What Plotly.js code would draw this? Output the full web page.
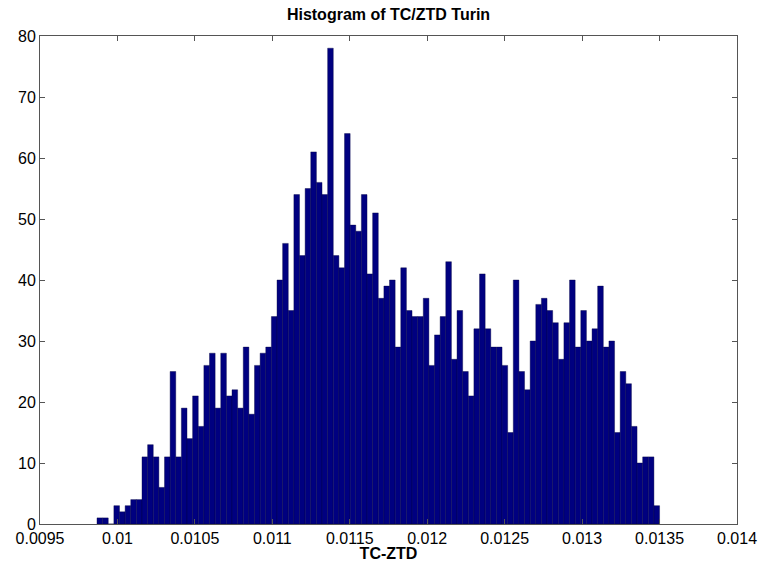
<!DOCTYPE html>
<html>
<head>
<meta charset="utf-8">
<script src="https://cdn.plot.ly/plotly-3.0.1.min.js"></script>
<style>html,body{margin:0;padding:0;background:#fff;}#chart{width:759px;height:562px;}</style>
</head>
<body>
<div id="chart"></div>
<script>
// Histogram bin range (data min / max) and number of bins
var binMin = 0.009868;
var binMax = 0.0135;
var nBins = 100;

// Counts per bin
var counts = [
  1, 1, 0, 3, 2, 3, 4, 4, 11, 13,
  11, 6, 11, 25, 11, 19, 14, 21, 16, 26,
  28, 19, 28, 21, 22, 19, 29, 18, 26, 28,
  29, 34, 40, 46, 35, 54, 44, 55, 61, 56,
  54, 78, 44, 42, 64, 49, 48, 54, 41, 51,
  37, 39, 40, 29, 42, 35, 34, 34, 37, 26,
  31, 34, 43, 27, 35, 25, 21, 32, 41, 32,
  29, 29, 26, 15, 40, 25, 22, 30, 36, 37,
  35, 33, 27, 33, 40, 29, 35, 30, 32, 39,
  29, 30, 15, 25, 23, 16, 10, 11, 11, 3
];

var xTickVals = [0.0095, 0.01, 0.0105, 0.011, 0.0115, 0.012, 0.0125, 0.013, 0.0135, 0.014];
var xTickText = ['0.0095', '0.01', '0.0105', '0.011', '0.0115', '0.012', '0.0125', '0.013', '0.0135', '0.014'];
var yTickVals = [0, 10, 20, 30, 40, 50, 60, 70, 80];

var binWidth = (binMax - binMin) / nBins;
var centers = counts.map(function (_, i) { return binMin + (i + 0.5) * binWidth; });

var trace = {
  type: 'bar',
  x: centers,
  y: counts,
  width: binWidth,
  marker: { color: '#000080', line: { color: '#000040', width: 0.4 } },
  hoverinfo: 'x+y'
};

var fam = 'Liberation Sans, Arial, sans-serif';
var font = { family: fam, size: 16, color: '#000' };

var layout = {
  width: 759,
  height: 562,
  margin: { l: 40, r: 22, t: 36, b: 38, pad: 0 },
  paper_bgcolor: '#fff',
  plot_bgcolor: '#fff',
  showlegend: false,
  bargap: 0,
  font: font,
  title: {
    text: '<b>Histogram of TC/ZTD Turin</b>',
    font: { family: fam, size: 16, color: '#000' },
    x: 0.5, xanchor: 'center', xref: 'paper',
    y: 1, yref: 'container', yanchor: 'top', pad: { t: 9 }
  },
  xaxis: {
    range: [0.0095, 0.014],
    tickmode: 'array', tickvals: xTickVals, ticktext: xTickText,
    ticks: 'inside', ticklen: 5, tickcolor: '#555', tickwidth: 1,
    showline: true, linecolor: '#555', linewidth: 1, mirror: 'ticks',
    showgrid: false, zeroline: false,
    tickfont: font,
    title: { text: '<b>TC-ZTD</b>', font: { family: fam, size: 16, color: '#000' }, standoff: 0 }
  },
  yaxis: {
    range: [0, 80],
    tickmode: 'array', tickvals: yTickVals,
    ticks: 'inside', ticklen: 5, tickcolor: '#555', tickwidth: 1,
    showline: true, linecolor: '#555', linewidth: 1, mirror: 'ticks',
    showgrid: false, zeroline: false,
    tickfont: font
  }
};

Plotly.newPlot('chart', [trace], layout, { displayModeBar: false, staticPlot: true });
</script>
</body>
</html>
